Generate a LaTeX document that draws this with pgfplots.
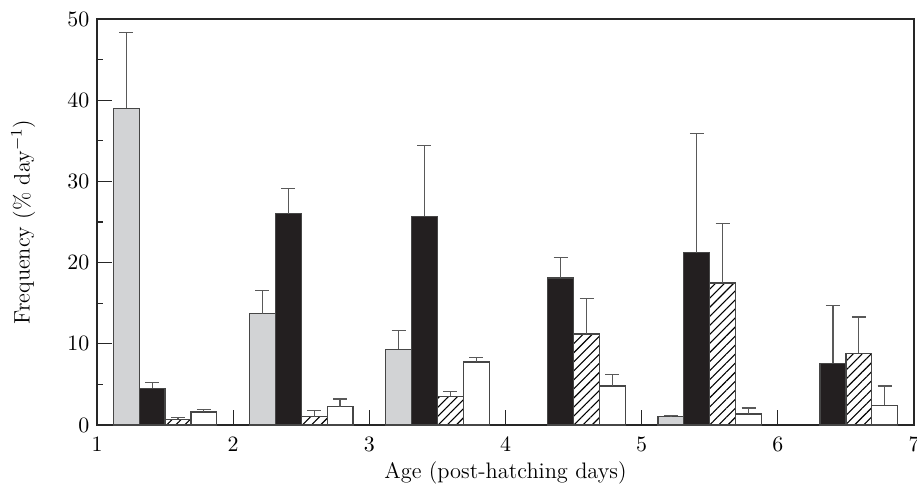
\documentclass[border=0pt]{standalone}
\usepackage{pgfplots}
\pgfplotsset{compat=1.18}
\usetikzlibrary{patterns.meta}
\definecolor{barGray}{RGB}{210,211,213}
\definecolor{barBlack}{RGB}{35,31,32}
\definecolor{edge}{RGB}{70,70,70}
\begin{document}
\fontsize{11}{13}\selectfont
\begin{tikzpicture}
\useasboundingbox (-48.5pt,-29pt) rectangle (410pt,212.5pt);
\begin{axis}[
  at={(0,0)}, anchor=south west,
  scale only axis, width=408.5pt, height=203pt,
  xmin=1, xmax=7, ymin=0, ymax=50,
  xtick={1,2,3,4,5,6,7},
  ytick={0,10,20,30,40,50},
  minor ytick={5,15,25,35,45},
  xtick pos=bottom, ytick pos=left,
  tick align=inside,
  major tick length=7.5pt, minor tick length=3pt,
  axis line style={line width=0.6pt, black!85},
  every tick/.style={black!85, line width=0.6pt},
  tick label style={font=\fontsize{11.2}{13}\selectfont},
  xticklabel style={yshift=-2.5pt},
  label style={font=\fontsize{11.2}{13}\selectfont},
  xlabel={Age (post-hatching days)},
  ylabel={Frequency (\% day$^{-1}$)},
  xlabel style={at={(axis description cs:0.5,0)}, anchor=north, yshift=-14.5pt},
  ylabel style={at={(axis description cs:0,0.5)}, anchor=south, yshift=27pt},
  every axis plot/.append style={
    ybar, bar width=0.19, bar shift=0pt, line width=0.6pt, draw=edge,
    error bars/y dir=plus, error bars/y explicit,
    error bars/error bar style={black!65, line width=0.6pt},
    error bars/error mark options={black!65, line width=0.6pt, mark size=3.5pt, rotate=90},
  },
]
% gray series
\addplot[fill=barGray] coordinates {
 (1.215,39.0) +- (0,9.3)
 (2.215,13.7) +- (0,2.9)
 (3.215,9.3) +- (0,2.3)
 (5.215,1.0) +- (0,0.2)
};
% black series
\addplot[fill=barBlack] coordinates {
 (1.405,4.5) +- (0,0.7)
 (2.405,26.0) +- (0,3.1)
 (3.405,25.7) +- (0,8.7)
 (4.405,18.1) +- (0,2.5)
 (5.405,21.2) +- (0,14.7)
 (6.405,7.6) +- (0,7.1)
};
% hatched series
\addplot[fill=white, postaction={pattern={Lines[angle=45,distance=3.2pt,line width=0.55pt]}, pattern color=black}] coordinates {
 (1.595,0.7) +- (0,0.25)
 (2.595,1.0) +- (0,0.75)
 (3.595,3.55) +- (0,0.55)
 (4.595,11.2) +- (0,4.4)
 (5.595,17.5) +- (0,7.3)
 (6.595,8.85) +- (0,4.45)
};
% white series
\addplot[fill=white] coordinates {
 (1.785,1.6) +- (0,0.3)
 (2.785,2.25) +- (0,0.95)
 (3.785,7.75) +- (0,0.6)
 (4.785,4.8) +- (0,1.4)
 (5.785,1.35) +- (0,0.75)
 (6.785,2.45) +- (0,2.35)
};
\end{axis}
\end{tikzpicture}
\end{document}
